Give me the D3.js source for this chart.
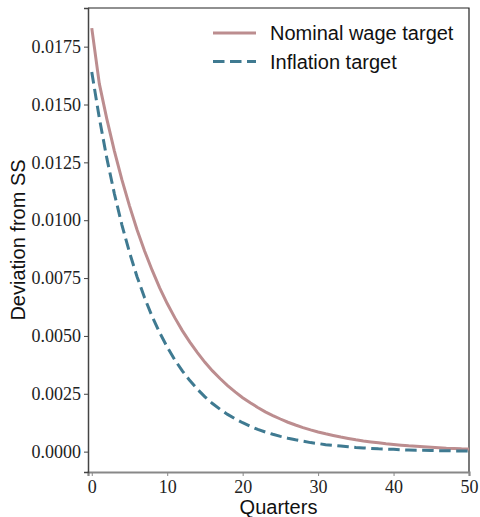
<!DOCTYPE html>
<html>
<head>
<meta charset="utf-8">
<script src="https://cdn.jsdelivr.net/npm/d3@7"></script>
<style>
  body { margin: 0; background: #fff; }
  svg { display: block; }
  .tick text { font-family: "Liberation Serif", serif; font-size: 18px; fill: #222; }
</style>
</head>
<body>
<div id="chart"></div>
<script>
// quarters 0..50
var quarters = d3.range(0, 51);
var wageTarget = [
  0.01830, 0.01590, 0.01437, 0.01299, 0.01174, 0.01062, 0.00959, 0.00867, 0.00784, 0.00708,
  0.00640, 0.00579, 0.00523, 0.00473, 0.00428, 0.00386, 0.00349, 0.00316, 0.00285, 0.00258,
  0.00233, 0.00211, 0.00191, 0.00172, 0.00156, 0.00141, 0.00127, 0.00115, 0.00104, 0.00094,
  0.00085, 0.00077, 0.00070, 0.00063, 0.00057, 0.00051, 0.00046, 0.00042, 0.00038, 0.00034,
  0.00031, 0.00028, 0.00025, 0.00023, 0.00021, 0.00019, 0.00017, 0.00015, 0.00014, 0.00012,
  0.00011
];
var inflationTarget = [
  0.01640, 0.01442, 0.01267, 0.01114, 0.00979, 0.00861, 0.00756, 0.00665, 0.00584, 0.00514,
  0.00452, 0.00397, 0.00349, 0.00307, 0.00270, 0.00237, 0.00208, 0.00183, 0.00161, 0.00142,
  0.00125, 0.00110, 0.00096, 0.00085, 0.00075, 0.00066, 0.00058, 0.00051, 0.00045, 0.00039,
  0.00035, 0.00030, 0.00027, 0.00024, 0.00021, 0.00018, 0.00016, 0.00014, 0.00012, 0.00011,
  0.00010, 0.00008, 0.00007, 0.00006, 0.00006, 0.00005, 0.00004, 0.00004, 0.00003, 0.00003,
  0.00003
];
var xTicks = [0, 10, 20, 30, 40, 50];
var yTicks = [0, 0.0025, 0.005, 0.0075, 0.01, 0.0125, 0.015, 0.0175];
var seriesNames = ["Nominal wage target", "Inflation target"];
var seriesColors = ["#bc8d8f", "#3f7a91"];

var width = 480, height = 517;
var margin = {top: 8, right: 11, bottom: 45, left: 88};

var svg = d3.select("#chart").append("svg")
  .attr("width", width)
  .attr("height", height);

var x = d3.scaleLinear().domain([-0.5, 50]).range([margin.left, width - margin.right]);
var y = d3.scaleLinear().domain([-0.00088, 0.01917]).range([height - margin.bottom, margin.top]);

// frame (top/right)
svg.append("path")
  .attr("d", `M${margin.left},${margin.top}H${width - margin.right}V${height - margin.bottom}`)
  .attr("fill", "none")
  .attr("stroke", "#222")
  .attr("stroke-width", 1.2);

var xAxis = svg.append("g")
  .attr("transform", `translate(0,${height - margin.bottom})`)
  .call(d3.axisBottom(x).tickValues(xTicks).tickSize(4).tickPadding(4).tickFormat(d3.format("d")));
xAxis.select(".domain").attr("stroke", "#888").attr("stroke-width", 2.2);
xAxis.selectAll(".tick line").attr("stroke", "#888");

var yAxis = svg.append("g")
  .attr("transform", `translate(${margin.left},0)`)
  .call(d3.axisLeft(y).tickValues(yTicks).tickSize(4).tickPadding(3).tickFormat(d3.format(".4f")));
yAxis.select(".domain").attr("stroke", "#444").attr("stroke-width", 1.5);
yAxis.selectAll(".tick line").attr("stroke", "#444");

var line = d3.line()
  .x((d, i) => x(quarters[i]))
  .y(d => y(d));

svg.append("path")
  .datum(wageTarget)
  .attr("fill", "none")
  .attr("stroke", seriesColors[0])
  .attr("stroke-width", 3)
  .attr("d", line);

svg.append("path")
  .datum(inflationTarget)
  .attr("fill", "none")
  .attr("stroke", seriesColors[1])
  .attr("stroke-width", 3)
  .attr("stroke-dasharray", "11.5,5.5")
  .attr("d", line);

// axis labels
svg.append("text")
  .attr("x", (margin.left + width - margin.right) / 2)
  .attr("y", 514)
  .attr("text-anchor", "middle")
  .attr("font-family", "Liberation Sans, Arial, sans-serif")
  .attr("font-size", 20)
  .attr("fill", "#111")
  .text("Quarters");

svg.append("text")
  .attr("transform", `translate(25,${(margin.top + height - margin.bottom) / 2}) rotate(-90)`)
  .attr("text-anchor", "middle")
  .attr("font-family", "Liberation Sans, Arial, sans-serif")
  .attr("font-size", 20)
  .attr("fill", "#111")
  .text("Deviation from SS");

// legend
var legend = svg.append("g").attr("transform", "translate(213,33)");
seriesNames.forEach(function(name, i) {
  var g = legend.append("g").attr("transform", `translate(0,${i * 28.5})`);
  g.append("line")
    .attr("x1", 0).attr("x2", 43)
    .attr("stroke", seriesColors[i])
    .attr("stroke-width", 3)
    .attr("stroke-dasharray", i === 1 ? "11.5,5.5" : null);
  g.append("text")
    .attr("x", 57)
    .attr("y", 7)
    .attr("font-family", "Liberation Sans, Arial, sans-serif")
    .attr("font-size", 20)
    .attr("fill", "#111")
    .text(name);
});
</script>
</body>
</html>
